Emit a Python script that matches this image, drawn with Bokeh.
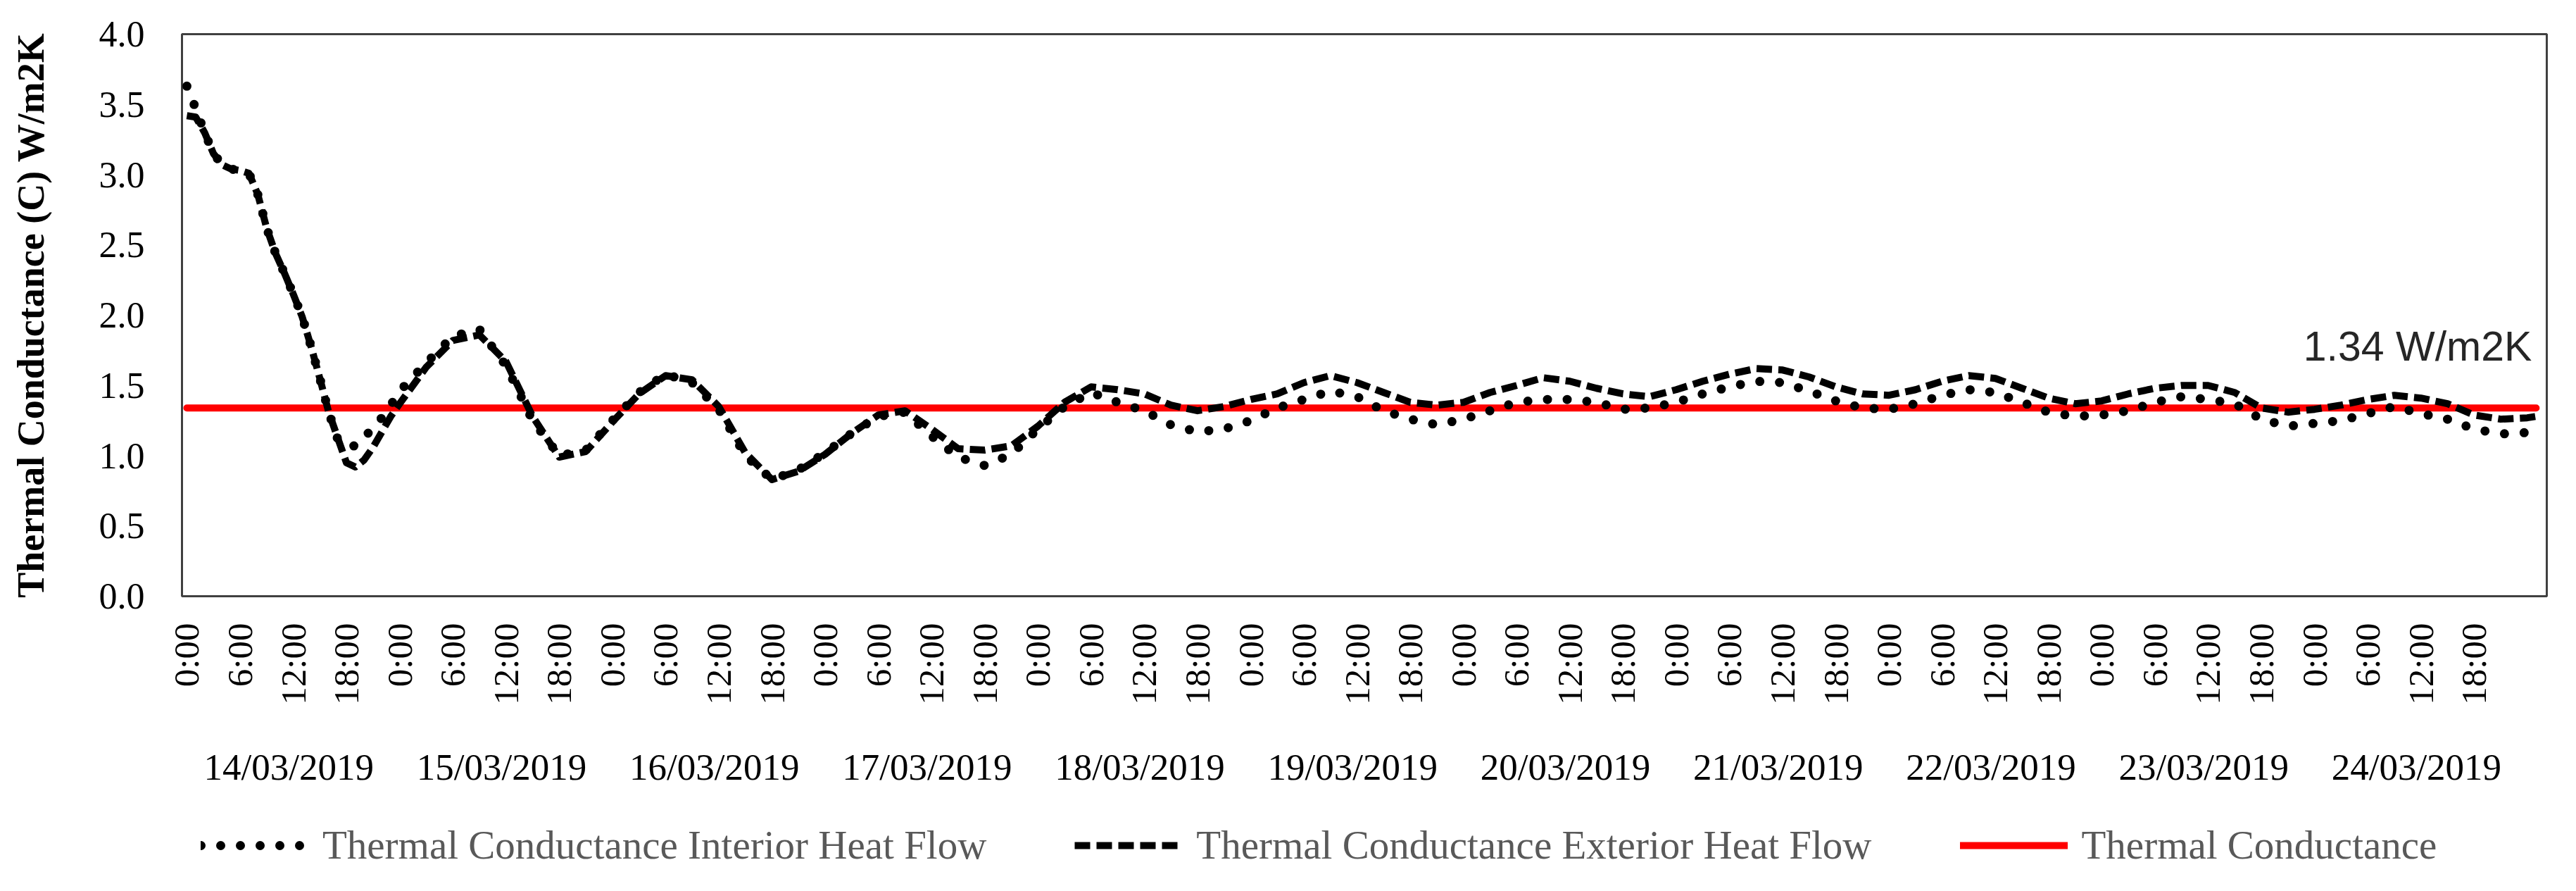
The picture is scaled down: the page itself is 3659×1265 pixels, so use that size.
import math
from bokeh.plotting import figure
from bokeh.layouts import column
from bokeh.models import (Range1d, LinearAxis, FixedTicker, Legend, LegendItem,
                          Label, PrintfTickFormatter)
from bokeh.embed import file_html
from bokeh.resources import INLINE

# ---------------- data ----------------
dates = ["14/03/2019", "15/03/2019", "16/03/2019", "17/03/2019", "18/03/2019",
         "19/03/2019", "20/03/2019", "21/03/2019", "22/03/2019", "23/03/2019",
         "24/03/2019"]
hour_names = ["0:00", "6:00", "12:00", "18:00"]
y_ticks = [0.0, 0.5, 1.0, 1.5, 2.0, 2.5, 3.0, 3.5, 4.0]

# hours since 14/03/2019 0:00
hours = list(range(0, 25)) + list(range(27, 265, 3)) + [265]

interior = [3.63, 3.47, 3.30, 3.15, 3.07, 3.04, 3.03, 3.01, 2.86, 2.62,
            2.44, 2.30, 2.15, 1.99, 1.78, 1.55, 1.31, 1.12, 1.07, 1.07,
            1.12, 1.21, 1.27, 1.36, 1.46,
            1.66, 1.85, 1.90, 1.64, 1.25, 1.00, 1.04, 1.25,
            1.45, 1.58, 1.52, 1.33, 1.00, 0.83, 0.90, 1.02,
            1.16, 1.28, 1.31, 1.14, 0.99, 0.93, 1.01, 1.19,
            1.35, 1.45, 1.38, 1.32, 1.22, 1.17, 1.19, 1.25,
            1.34, 1.40, 1.46, 1.42, 1.32, 1.26, 1.22, 1.26,
            1.32, 1.38, 1.40, 1.40, 1.38, 1.33, 1.34, 1.38,
            1.44, 1.49, 1.53, 1.52, 1.46, 1.39, 1.34, 1.33,
            1.37, 1.43, 1.47, 1.45, 1.38, 1.31, 1.28, 1.29,
            1.32, 1.38, 1.42, 1.40, 1.37, 1.26, 1.21, 1.23,
            1.25, 1.30, 1.35, 1.30, 1.26, 1.19, 1.155, 1.165,
            1.17]

exterior = [3.42, 3.41, 3.30, 3.15, 3.07, 3.04, 3.03, 3.01, 2.86, 2.62,
            2.44, 2.30, 2.15, 1.99, 1.78, 1.55, 1.31, 1.13, 0.95, 0.92,
            0.97, 1.06, 1.17, 1.28, 1.37,
            1.63, 1.82, 1.86, 1.67, 1.28, 0.99, 1.03, 1.24,
            1.44, 1.57, 1.54, 1.35, 1.02, 0.83, 0.89, 1.01,
            1.16, 1.29, 1.32, 1.19, 1.05, 1.04, 1.07, 1.21,
            1.38, 1.49, 1.47, 1.44, 1.36, 1.32, 1.35, 1.40,
            1.44, 1.52, 1.57, 1.52, 1.45, 1.38, 1.36, 1.38,
            1.45, 1.50, 1.555, 1.53, 1.48, 1.44, 1.42, 1.47,
            1.53, 1.58, 1.62, 1.61, 1.56, 1.49, 1.44, 1.43,
            1.47, 1.53, 1.57, 1.55, 1.48, 1.41, 1.37, 1.39,
            1.44, 1.48, 1.50, 1.50, 1.45, 1.34, 1.31, 1.33,
            1.36, 1.40, 1.43, 1.41, 1.37, 1.29, 1.26, 1.27,
            1.28]

conductance = 1.34
conductance_text = "1.34 W/m2K"
series_names = ["Thermal Conductance Interior Heat Flow",
                "Thermal Conductance Exterior Heat Flow",
                "Thermal Conductance"]
y_title = "Thermal Conductance (C) W/m2K"

# ---------------- styles ----------------
SERIF = "Liberation Serif"
INT_STYLE = dict(line_color="black", line_width=13, line_dash="0 28",
                 line_cap="round", line_join="round")
EXT_STYLE = dict(line_color="black", line_width=10, line_dash="22 9",
                 line_cap="butt", line_join="round")
RED_STYLE = dict(line_color="#FF0000", line_width=10, line_cap="round")

# ---------------- main figure ----------------
W, H_MAIN, H_LEG = 3643, 1130, 119
p = figure(width=W, height=H_MAIN, output_backend="svg", toolbar_location=None,
           x_range=Range1d(-0.55, 266.2), y_range=Range1d(0, 4),
           min_border_left=258, min_border_right=26,
           min_border_top=48, min_border_bottom=H_MAIN - 846)
p.grid.visible = False
p.background_fill_color = "white"
p.border_fill_color = "white"
p.outline_line_color = "#404040"
p.outline_line_width = 3

# y axis
ya = p.yaxis[0]
ya.ticker = FixedTicker(ticks=y_ticks)
ya.formatter = PrintfTickFormatter(format="%.1f")
ya.axis_line_color = None
ya.major_tick_line_color = None
ya.minor_tick_line_color = None
ya.major_tick_out = 0
ya.major_tick_in = 0
ya.major_label_standoff = 53
ya.major_label_text_font = SERIF
ya.major_label_text_font_size = "52px"
ya.major_label_text_color = "black"
ya.axis_label = y_title
ya.axis_label_text_font = SERIF
ya.axis_label_text_font_style = "bold"
ya.axis_label_text_font_size = "54px"
ya.axis_label_text_color = "black"
ya.axis_label_standoff = 64

# x axis (hours)
tick_hours = [h for h in hours if h % 6 == 0 and h <= 258]
xa = p.xaxis[0]
xa.ticker = FixedTicker(ticks=tick_hours)
xa.major_label_overrides = {h: hour_names[(h // 6) % 4] for h in tick_hours}
xa.major_label_orientation = math.pi / 2
xa.axis_line_color = None
xa.major_tick_line_color = None
xa.minor_tick_line_color = None
xa.major_tick_out = 0
xa.major_tick_in = 0
xa.major_label_standoff = 38
xa.major_label_text_font = SERIF
xa.major_label_text_font_size = "51px"
xa.major_label_text_color = "black"

# date axis
date_ticks = [24 * i + 11.5 for i in range(len(dates))]
da = LinearAxis(ticker=FixedTicker(ticks=date_ticks),
                major_label_overrides={t: d for t, d in zip(date_ticks, dates)})
da.axis_line_color = None
da.major_tick_line_color = None
da.minor_tick_line_color = None
da.major_tick_out = 0
da.major_tick_in = 0
da.major_label_standoff = 56
da.major_label_text_font = SERIF
da.major_label_text_font_size = "53px"
da.major_label_text_color = "black"
p.add_layout(da, "below")

# series
p.line(hours, [conductance] * len(hours), **RED_STYLE)
p.line(hours, interior, **INT_STYLE)
p.line(hours, exterior, **EXT_STYLE)

lbl = Label(x=hours[-1], y=conductance, x_offset=-6, y_offset=87,
            text=conductance_text, text_align="right",
            text_baseline="alphabetic", text_font="Liberation Sans",
            text_font_size="59px", text_color="#262626")
p.add_layout(lbl)

# ---------------- legend strip ----------------
q = figure(width=W, height=H_LEG, output_backend="svg", toolbar_location=None,
           x_axis_location=None, y_axis_location=None,
           x_range=Range1d(-0.55, 266.2), y_range=Range1d(100, 101),
           min_border=0)
q.grid.visible = False
q.outline_line_color = None
q.background_fill_color = "white"
q.border_fill_color = "white"
l_int = q.line(hours, interior, **INT_STYLE)
l_ext = q.line(hours, exterior, **EXT_STYLE)
l_red = q.line(hours, [conductance] * len(hours), **RED_STYLE)

legend = Legend(items=[LegendItem(label=series_names[0], renderers=[l_int]),
                       LegendItem(label=series_names[1], renderers=[l_ext]),
                       LegendItem(label=series_names[2], renderers=[l_red])],
                orientation="horizontal", location=(27, 17),
                glyph_width=153, glyph_height=20, label_standoff=20,
                spacing=125, padding=0, margin=0,
                border_line_color=None, background_fill_alpha=0,
                label_text_font=SERIF, label_text_font_size="57px",
                label_text_color="#595959")
q.add_layout(legend)

layout = column(p, q, spacing=0)
open("out.html", "w").write(file_html(layout, INLINE))
